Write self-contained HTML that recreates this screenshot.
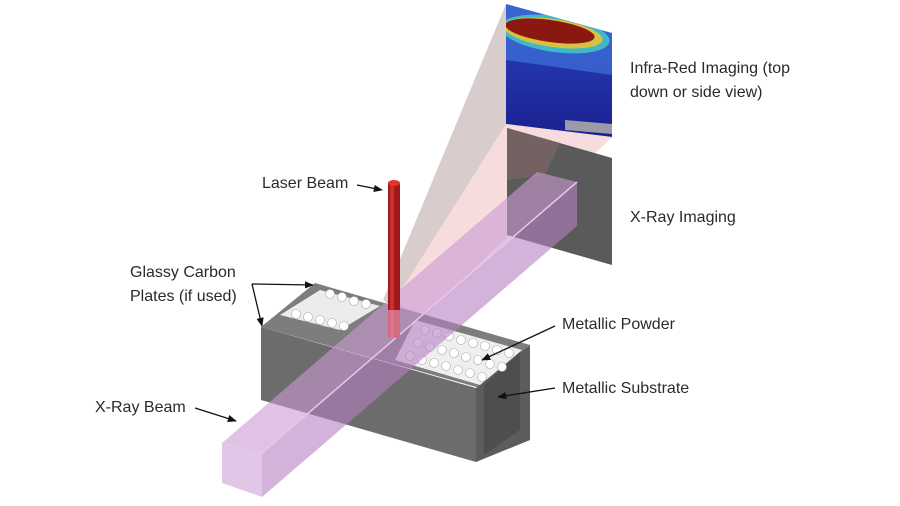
<!DOCTYPE html>
<html><head><meta charset="utf-8"><style>
html,body{margin:0;padding:0;background:#fff;}
svg{display:block}
text{font-family:"Liberation Sans",sans-serif;font-size:16px;fill:#2a2a2a}
</style></head><body>
<svg width="900" height="506" viewBox="0 0 900 506" xmlns="http://www.w3.org/2000/svg">
<defs>
<marker id="ah" viewBox="0 0 10 10" refX="9" refY="5" markerWidth="7" markerHeight="7" orient="auto"><path d="M0,1 L10,5 L0,9 z" fill="#111"/></marker>
<linearGradient id="ir" x1="0" y1="0" x2="0" y2="1">
<stop offset="0" stop-color="#2a48c0"/><stop offset="0.5" stop-color="#2233a8"/><stop offset="1" stop-color="#1a2090"/></linearGradient>
<clipPath id="irc"><polygon points="506,4 612,33 612,137 506,124"/></clipPath>
</defs>
<!-- IR cone -->
<polygon points="506,4 612,33 612,137 420,320 383,300" fill="#d4c6c6" opacity="0.9"/>
<polygon points="506,124 612,137 420,320 395,300" fill="#f8dcdc" opacity="0.95"/>
<!-- IR image -->
<g clip-path="url(#irc)">
<polygon points="506,4 612,33 612,137 506,124" fill="url(#ir)"/>
<polygon points="506,4 612,33 612,75 506,60" fill="#3f72d8" opacity="0.7"/>
<ellipse cx="555" cy="34" rx="55" ry="18" fill="#40b8c8" transform="rotate(8 555 34)"/>
<ellipse cx="553" cy="33" rx="50" ry="14" fill="#d8c040" transform="rotate(8 553 33)"/>
<ellipse cx="550" cy="31" rx="45" ry="11" fill="#8a1810" transform="rotate(8 550 31)"/>
<polygon points="565,120 612,124 612,134 565,130" fill="#9a9aa8"/>
</g>
<!-- X-ray detector -->
<polygon points="507,128 612,158 612,265 507,235" fill="#5a5a5a"/>
<polygon points="507,128 560,143 545,175 507,180" fill="#7a6464" opacity="0.8"/>
<!-- block -->
<polygon points="315,283 530,345 480,388 261,327" fill="#7d7d7d"/>
<polygon points="261,327 476,388 476,462 261,400" fill="#6c6c6c"/>
<polygon points="476,388 530,345 530,440 476,462" fill="#5c5c5c"/>
<polygon points="484,385 520,352 520,430 484,455" fill="#4e4e4e"/>
<polygon points="320,290 380,306 340,330 280,315" fill="#ececec"/>
<polygon points="415,320 522,350 480,385 395,360" fill="#efefef"/>
<g fill="#fff" stroke="#aaa" stroke-width="0.6">
<circle cx="330" cy="294" r="4.5"/><circle cx="342" cy="297" r="4.5"/><circle cx="354" cy="301" r="4.5"/><circle cx="366" cy="304" r="4.5"/>
<circle cx="296" cy="314" r="4.5"/><circle cx="308" cy="317" r="4.5"/><circle cx="320" cy="320" r="4.5"/><circle cx="332" cy="323" r="4.5"/><circle cx="344" cy="326" r="4.5"/>
<circle cx="425" cy="330" r="4.5"/><circle cx="437" cy="333" r="4.5"/><circle cx="449" cy="336" r="4.5"/><circle cx="461" cy="340" r="4.5"/><circle cx="473" cy="343" r="4.5"/><circle cx="485" cy="346" r="4.5"/><circle cx="497" cy="350" r="4.5"/><circle cx="509" cy="353" r="4.5"/>
<circle cx="418" cy="343" r="4.5"/><circle cx="430" cy="347" r="4.5"/><circle cx="442" cy="350" r="4.5"/><circle cx="454" cy="353" r="4.5"/><circle cx="466" cy="357" r="4.5"/><circle cx="478" cy="360" r="4.5"/><circle cx="490" cy="364" r="4.5"/><circle cx="502" cy="367" r="4.5"/>
<circle cx="410" cy="356" r="4.5"/><circle cx="422" cy="360" r="4.5"/><circle cx="434" cy="363" r="4.5"/><circle cx="446" cy="366" r="4.5"/><circle cx="458" cy="370" r="4.5"/><circle cx="470" cy="373" r="4.5"/><circle cx="482" cy="377" r="4.5"/>
</g>
<!-- X-ray beam -->
<polygon points="262,453 577,182 577,226 262,497" fill="#b680c0" opacity="0.6"/>
<polygon points="222,443 262,453 577,182 537,172" fill="#cc9ad4" opacity="0.6"/>
<polygon points="222,443 262,453 262,497 222,483" fill="#d6aede" opacity="0.7"/>
<line x1="262" y1="453" x2="577" y2="182" stroke="#e8c4ee" stroke-width="1.5"/>
<!-- laser -->
<rect x="388" y="183" width="12" height="155" fill="#a01818"/>
<rect x="390" y="183" width="4" height="155" fill="#c83030"/>
<ellipse cx="394" cy="183" rx="6" ry="3" fill="#e83030"/>
<rect x="388" y="310" width="12" height="28" fill="#e890b0" opacity="0.7"/>
<!-- labels -->
<text x="630" y="73">Infra-Red Imaging (top</text>
<text x="630" y="97">down or side view)</text>
<text x="630" y="222">X-Ray Imaging</text>
<text x="262" y="188">Laser Beam</text>
<text x="130" y="277">Glassy Carbon</text>
<text x="130" y="301">Plates (if used)</text>
<text x="562" y="329">Metallic Powder</text>
<text x="562" y="393">Metallic Substrate</text>
<text x="95" y="412">X-Ray Beam</text>
<g stroke="#111" stroke-width="1.3" fill="none" marker-end="url(#ah)">
<line x1="357" y1="185" x2="382" y2="190"/>
<line x1="252" y1="284" x2="313" y2="285"/>
<line x1="252" y1="284" x2="262" y2="326"/>
<line x1="555" y1="326" x2="482" y2="360"/>
<line x1="555" y1="388" x2="498" y2="397"/>
<line x1="195" y1="408" x2="236" y2="421"/>
</g>
</svg>
</body></html>
